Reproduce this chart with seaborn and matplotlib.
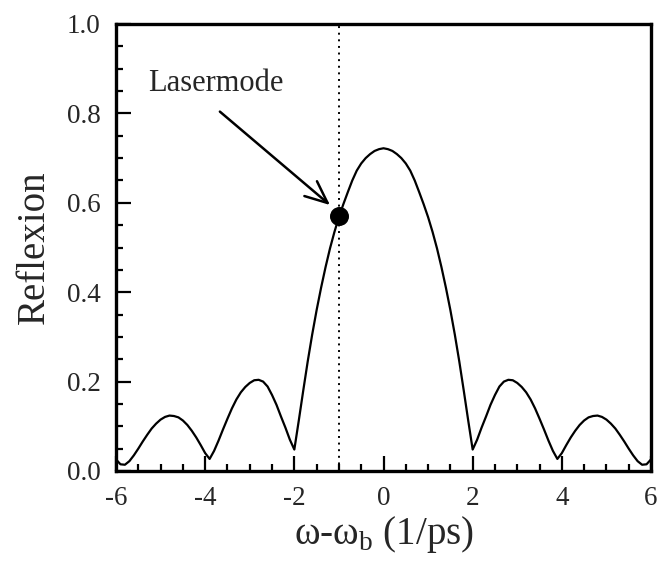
import matplotlib
matplotlib.use("Agg")
import matplotlib.pyplot as plt
import seaborn as sns
import pandas as pd
from matplotlib.ticker import MultipleLocator, FormatStrFormatter

# Data
detuning = [-6.0, -5.9, -5.8, -5.7, -5.6, -5.5, -5.4, -5.3, -5.2, -5.1,
            -5.0, -4.9, -4.8, -4.7, -4.6, -4.5, -4.4, -4.3, -4.2, -4.1,
            -4.0, -3.9, -3.8, -3.7, -3.6, -3.5, -3.4, -3.3, -3.2, -3.1,
            -3.0, -2.9, -2.8, -2.7, -2.6, -2.5, -2.4, -2.3, -2.2, -2.1,
            -2.0, -1.9, -1.8, -1.7, -1.6, -1.5, -1.4, -1.3, -1.2, -1.1,
            -1.0, -0.9, -0.8, -0.7, -0.6, -0.5, -0.4, -0.3, -0.2, -0.1,
            0.0,
            0.1, 0.2, 0.3, 0.4, 0.5, 0.6, 0.7, 0.8, 0.9, 1.0,
            1.1, 1.2, 1.3, 1.4, 1.5, 1.6, 1.7, 1.8, 1.9, 2.0,
            2.1, 2.2, 2.3, 2.4, 2.5, 2.6, 2.7, 2.8, 2.9, 3.0,
            3.1, 3.2, 3.3, 3.4, 3.5, 3.6, 3.7, 3.8, 3.9, 4.0,
            4.1, 4.2, 4.3, 4.4, 4.5, 4.6, 4.7, 4.8, 4.9, 5.0,
            5.1, 5.2, 5.3, 5.4, 5.5, 5.6, 5.7, 5.8, 5.9, 6.0]
reflexion = [0.026, 0.015, 0.014, 0.022, 0.035, 0.050, 0.066, 0.081, 0.095, 0.106,
             0.115, 0.121, 0.124, 0.123, 0.120, 0.113, 0.103, 0.090, 0.075, 0.058,
             0.040, 0.027, 0.045, 0.068, 0.093, 0.117, 0.140, 0.160, 0.176, 0.188,
             0.197, 0.203, 0.204, 0.200, 0.189, 0.170, 0.148, 0.122, 0.097, 0.070,
             0.048, 0.113, 0.180, 0.245, 0.305, 0.360, 0.410, 0.456, 0.498, 0.535,
             0.568, 0.597, 0.624, 0.650, 0.672, 0.688, 0.700, 0.709, 0.716, 0.720,
             0.722,
             0.720, 0.716, 0.709, 0.700, 0.688, 0.672, 0.650, 0.624, 0.597, 0.568,
             0.535, 0.498, 0.456, 0.410, 0.360, 0.305, 0.245, 0.180, 0.113, 0.048,
             0.070, 0.097, 0.122, 0.148, 0.170, 0.189, 0.200, 0.204, 0.203, 0.197,
             0.188, 0.176, 0.160, 0.140, 0.117, 0.093, 0.068, 0.045, 0.027, 0.040,
             0.058, 0.075, 0.090, 0.103, 0.113, 0.120, 0.123, 0.124, 0.121, 0.115,
             0.106, 0.095, 0.081, 0.066, 0.050, 0.035, 0.022, 0.014, 0.015, 0.026]
laser_x = [-1.0]
laser_y = [0.57]
label_text = "Lasermode"
x_label = "\u03c9-\u03c9$_\\mathregular{b}$ (1/ps)"
y_label = "Reflexion"

df = pd.DataFrame({"x": detuning, "y": reflexion})
dot = pd.DataFrame({"x": laser_x, "y": laser_y})

sns.set_theme(style="white")
plt.rcParams["font.family"] = ["Liberation Serif", "DejaVu Serif"]
plt.rcParams["mathtext.fontset"] = "custom"
plt.rcParams["mathtext.rm"] = "Liberation Serif"

fig = plt.figure(figsize=(6.59, 5.61), dpi=100)
ax = fig.add_axes([116 / 659, 1 - 471 / 561, 535 / 659, 447 / 561])

ax.axvline(laser_x[0], color="black", lw=1.4, linestyle=(0, (1, 2.4)), zorder=1)
sns.lineplot(data=df, x="x", y="y", color="black", lw=1.6, ax=ax,
             estimator=None, sort=False, zorder=2)
sns.scatterplot(data=dot, x="x", y="y", color="black", s=160,
                edgecolor="black", ax=ax, zorder=3)

ax.text(-5.28, 0.849, label_text, fontsize=22, ha="left", va="baseline")
ax.annotate("", xy=(-1.2, 0.595), xytext=(-3.67, 0.804),
            arrowprops=dict(arrowstyle="->,head_length=0.8,head_width=0.35",
                            color="black", lw=1.8, mutation_scale=20,
                            shrinkA=0, shrinkB=0))

ax.set_xlim(-6, 6)
ax.set_ylim(0, 1.0)
ax.xaxis.set_major_locator(MultipleLocator(2))
ax.xaxis.set_minor_locator(MultipleLocator(0.5))
ax.yaxis.set_major_locator(MultipleLocator(0.2))
ax.yaxis.set_minor_locator(MultipleLocator(0.05))
ax.yaxis.set_major_formatter(FormatStrFormatter("%.1f"))
ax.xaxis.set_major_formatter(FormatStrFormatter("%d"))

ax.tick_params(which="both", direction="in", color="black", width=1.6,
               bottom=True, left=True, top=False, right=False)
ax.tick_params(which="major", length=11, labelsize=19.5, pad=11)
ax.tick_params(which="minor", length=5)
for s in ax.spines.values():
    s.set_linewidth(2.4)
    s.set_color("black")

ax.set_xlabel(x_label, fontsize=28, labelpad=2)
ax.set_ylabel(y_label, fontsize=28, labelpad=10)

fig.savefig("out.png", dpi=100)
